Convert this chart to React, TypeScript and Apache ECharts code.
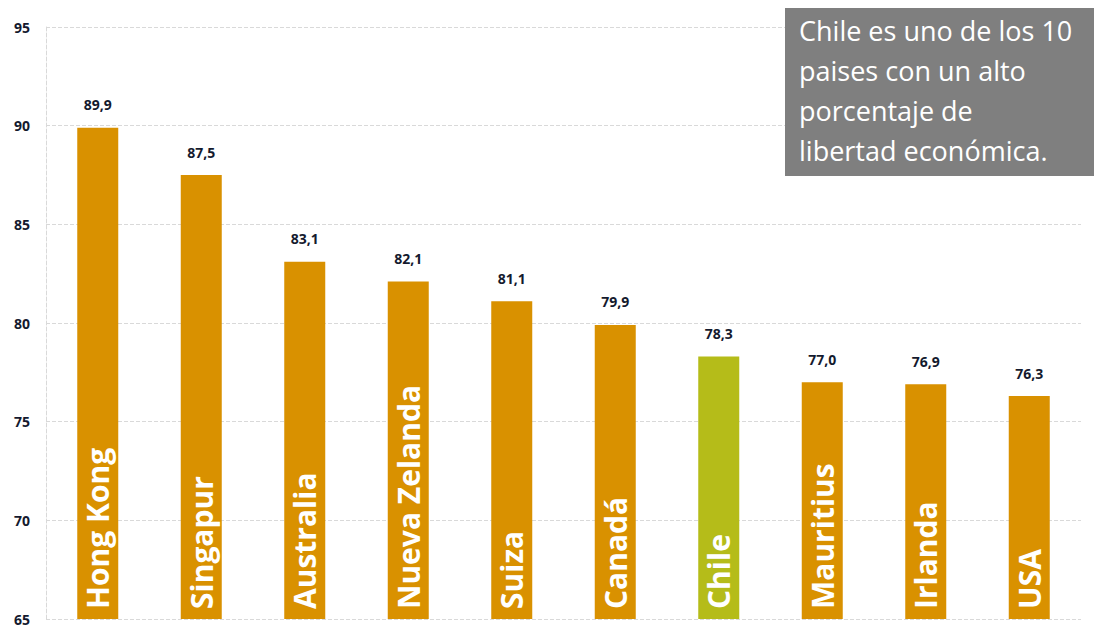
import React, { useEffect, useRef } from "react";
import * as echarts from "echarts";

const categories = ["Hong Kong", "Singapur", "Australia", "Nueva Zelanda", "Suiza", "Canadá", "Chile", "Mauritius", "Irlanda", "USA"];
const values = [89.9, 87.5, 83.1, 82.1, 81.1, 79.9, 78.3, 77.0, 76.9, 76.3];
const highlight = "Chile";
const yTicks = { min: 65, max: 95, interval: 5 };
const noteLines = ["Chile es uno de los 10", "paises con un alto", "porcentaje de", "libertad económica."];

const ORANGE = "#D99100";
const GREEN = "#B5BC19";

export default function App() {
  const ref = useRef<HTMLDivElement>(null);
  useEffect(() => {
    document.body.style.margin = "0";
    const chart = echarts.init(ref.current!, null, { renderer: "svg" });
    const data = values.map((v, i) => ({
      value: v,
      itemStyle: { color: categories[i] === highlight ? GREEN : ORANGE },
    }));
    chart.setOption({
      animation: false,
      backgroundColor: "#fff",
      grid: { left: 46, right: 13, top: 27, bottom: 9, containLabel: false },
      xAxis: {
        type: "category",
        data: categories,
        axisLine: { show: false },
        axisTick: { show: false },
        axisLabel: { show: false },
      },
      yAxis: {
        type: "value",
        min: yTicks.min,
        max: yTicks.max,
        interval: yTicks.interval,
        axisLine: { show: true, lineStyle: { color: "#d9d9d9", type: "dashed" } },
        axisTick: { show: false },
        axisLabel: {
          margin: 16,
          color: "#141a2e",
          fontSize: 14,
          lineHeight: 14,
          fontWeight: "bold",
          fontFamily: "Open Sans, sans-serif",
        },
        splitLine: { show: true, lineStyle: { color: "#d9d9d9", type: "dashed" } },
      },
      series: [
        {
          type: "bar",
          data,
          barWidth: 41,
          label: {
            show: true,
            position: "top",
            distance: 16,
            color: "#141a2e",
            fontSize: 14,
            fontWeight: "bold",
            fontFamily: "Open Sans, sans-serif",
            formatter: (p: any) => Number(p.value).toFixed(1).replace(".", ","),
          },
        },
        {
          type: "bar",
          data: values,
          barWidth: 41,
          barGap: "-100%",
          itemStyle: { color: "transparent" },
          label: {
            show: true,
            position: "insideBottom",
            rotate: 90,
            align: "left",
            verticalAlign: "middle",
            distance: 10,
            color: "#fff",
            fontSize: 30,
            fontWeight: "bold",
            fontFamily: "Open Sans, sans-serif",
            formatter: (p: any) => categories[p.dataIndex],
          },
        },
      ],
      graphic: [
        {
          type: "group",
          left: 785,
          top: 8,
          z: 100,
          children: [
            { type: "rect", z: 100, shape: { x: 0, y: 0, width: 309, height: 168 }, style: { fill: "#7f7f7f" } },
            ...noteLines.map((t, i) => ({
              type: "text",
              z: 101,
              x: 14,
              y: 9 + i * 40,
              style: {
                text: t,
                fill: "#fff",
                fontSize: 27,
                fontFamily: "Open Sans, sans-serif",
              },
            })),
          ],
        },
      ],
    });
    return () => chart.dispose();
  }, []);
  return <div ref={ref} style={{ width: 1094, height: 628 }} />;
}
